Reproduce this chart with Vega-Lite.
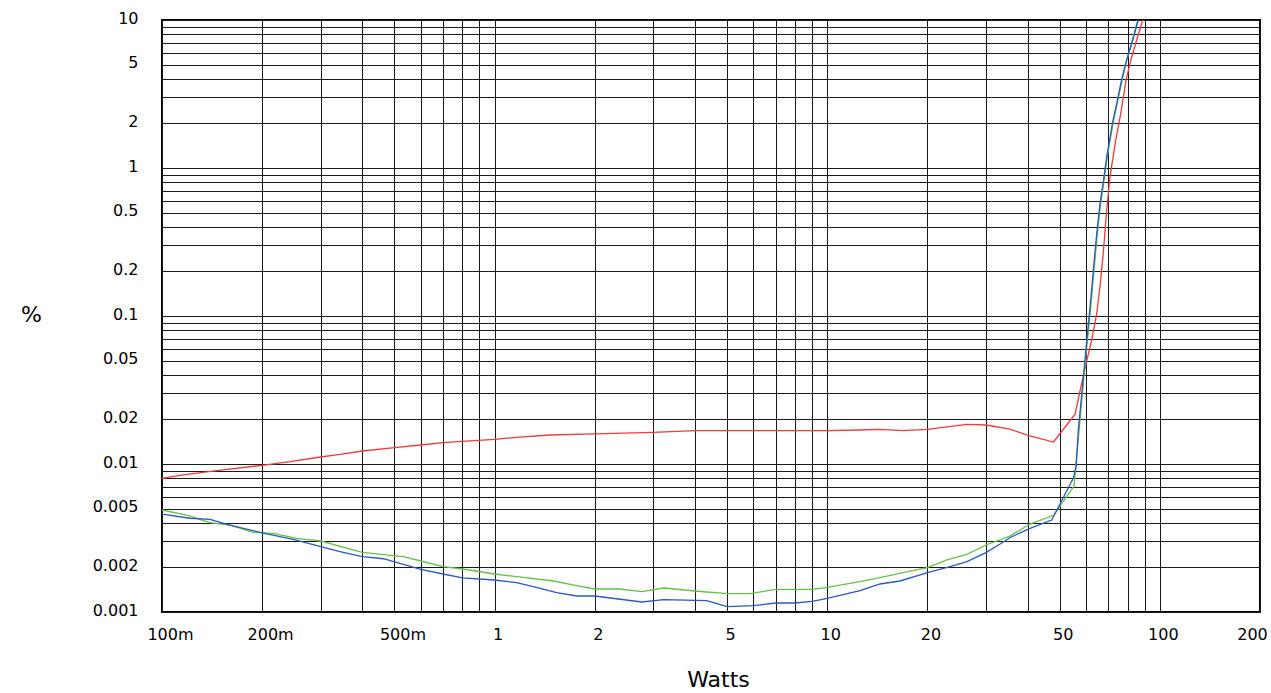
{
  "$schema": "https://vega.github.io/schema/vega-lite/v6.json",
  "autosize": {"type": "none"},
  "width": 1098,
  "height": 592,
  "padding": {"left": 162, "top": 20, "right": 11, "bottom": 81},
  "background": "white",
  "config": {
    "view": {"stroke": "black", "strokeWidth": 2},
    "font": "DejaVu Sans"
  },
  "data": {
    "values": [
      {"series": "red", "w": 0.1, "pct": 0.0080},
      {"series": "red", "w": 0.1157, "pct": 0.00843},
      {"series": "red", "w": 0.146, "pct": 0.00901},
      {"series": "red", "w": 0.2, "pct": 0.0098},
      {"series": "red", "w": 0.2425, "pct": 0.01036},
      {"series": "red", "w": 0.3, "pct": 0.01115},
      {"series": "red", "w": 0.343, "pct": 0.01163},
      {"series": "red", "w": 0.4, "pct": 0.01224},
      {"series": "red", "w": 0.5, "pct": 0.01289},
      {"series": "red", "w": 0.6, "pct": 0.01344},
      {"series": "red", "w": 0.7, "pct": 0.01393},
      {"series": "red", "w": 0.8, "pct": 0.01423},
      {"series": "red", "w": 1.0, "pct": 0.01468},
      {"series": "red", "w": 1.165, "pct": 0.01515},
      {"series": "red", "w": 1.467, "pct": 0.0157},
      {"series": "red", "w": 2.0, "pct": 0.0160},
      {"series": "red", "w": 3.0, "pct": 0.01637},
      {"series": "red", "w": 4.0, "pct": 0.0168},
      {"series": "red", "w": 10, "pct": 0.0168},
      {"series": "red", "w": 12.55, "pct": 0.01697},
      {"series": "red", "w": 14.4, "pct": 0.01715},
      {"series": "red", "w": 16.9, "pct": 0.0168},
      {"series": "red", "w": 20, "pct": 0.01715},
      {"series": "red", "w": 26.3, "pct": 0.01854},
      {"series": "red", "w": 30, "pct": 0.01834},
      {"series": "red", "w": 35.4, "pct": 0.0172},
      {"series": "red", "w": 40.7, "pct": 0.01546},
      {"series": "red", "w": 47.9, "pct": 0.01408},
      {"series": "red", "w": 55.6, "pct": 0.0217},
      {"series": "red", "w": 58.2, "pct": 0.0351},
      {"series": "red", "w": 60.0, "pct": 0.0479},
      {"series": "red", "w": 62.4, "pct": 0.0689},
      {"series": "red", "w": 64.6, "pct": 0.104},
      {"series": "red", "w": 66.4, "pct": 0.175},
      {"series": "red", "w": 67.7, "pct": 0.279},
      {"series": "red", "w": 69.0, "pct": 0.48},
      {"series": "red", "w": 70.8, "pct": 0.874},
      {"series": "red", "w": 73.7, "pct": 1.55},
      {"series": "red", "w": 76.3, "pct": 2.34},
      {"series": "red", "w": 79.1, "pct": 3.93},
      {"series": "red", "w": 82.3, "pct": 5.65},
      {"series": "red", "w": 85.2, "pct": 7.33},
      {"series": "red", "w": 88.8, "pct": 10},

      {"series": "green", "w": 0.1, "pct": 0.00489},
      {"series": "green", "w": 0.1186, "pct": 0.00452},
      {"series": "green", "w": 0.1394, "pct": 0.00401},
      {"series": "green", "w": 0.160, "pct": 0.00387},
      {"series": "green", "w": 0.1882, "pct": 0.003455},
      {"series": "green", "w": 0.216, "pct": 0.0034},
      {"series": "green", "w": 0.2542, "pct": 0.003146},
      {"series": "green", "w": 0.3, "pct": 0.003018},
      {"series": "green", "w": 0.4, "pct": 0.00253},
      {"series": "green", "w": 0.5313, "pct": 0.002365},
      {"series": "green", "w": 0.6, "pct": 0.002211},
      {"series": "green", "w": 0.7, "pct": 0.002024},
      {"series": "green", "w": 0.8, "pct": 0.001952},
      {"series": "green", "w": 1.0, "pct": 0.001806},
      {"series": "green", "w": 1.22, "pct": 0.001715},
      {"series": "green", "w": 1.501, "pct": 0.00162},
      {"series": "green", "w": 1.765, "pct": 0.001506},
      {"series": "green", "w": 2.0, "pct": 0.00143},
      {"series": "green", "w": 2.38, "pct": 0.00143},
      {"series": "green", "w": 2.77, "pct": 0.001371},
      {"series": "green", "w": 3.22, "pct": 0.001453},
      {"series": "green", "w": 4.0, "pct": 0.001386},
      {"series": "green", "w": 5.0, "pct": 0.00133},
      {"series": "green", "w": 5.86, "pct": 0.00133},
      {"series": "green", "w": 7.0, "pct": 0.001423},
      {"series": "green", "w": 9.0, "pct": 0.001423},
      {"series": "green", "w": 10, "pct": 0.001468},
      {"series": "green", "w": 12.55, "pct": 0.001603},
      {"series": "green", "w": 14.4, "pct": 0.001706},
      {"series": "green", "w": 16.9, "pct": 0.001844},
      {"series": "green", "w": 20, "pct": 0.001993},
      {"series": "green", "w": 22.9, "pct": 0.002246},
      {"series": "green", "w": 26.3, "pct": 0.002453},
      {"series": "green", "w": 30, "pct": 0.002836},
      {"series": "green", "w": 35.4, "pct": 0.00326},
      {"series": "green", "w": 40.7, "pct": 0.00393},
      {"series": "green", "w": 47.9, "pct": 0.0045},
      {"series": "green", "w": 55.2, "pct": 0.0071},
      {"series": "green", "w": 57.2, "pct": 0.0172},
      {"series": "green", "w": 59.1, "pct": 0.0389},
      {"series": "green", "w": 60.6, "pct": 0.0689},
      {"series": "green", "w": 62.0, "pct": 0.1156},
      {"series": "green", "w": 63.4, "pct": 0.2046},
      {"series": "green", "w": 64.9, "pct": 0.362},
      {"series": "green", "w": 66.4, "pct": 0.577},
      {"series": "green", "w": 68.0, "pct": 0.83},
      {"series": "green", "w": 69.5, "pct": 1.19},
      {"series": "green", "w": 72.3, "pct": 2.0},
      {"series": "green", "w": 74.5, "pct": 2.74},
      {"series": "green", "w": 77.0, "pct": 3.93},
      {"series": "green", "w": 79.6, "pct": 5.37},
      {"series": "green", "w": 82.7, "pct": 7.33},
      {"series": "green", "w": 85.8, "pct": 10},

      {"series": "blue", "w": 0.1, "pct": 0.00459},
      {"series": "blue", "w": 0.1214, "pct": 0.0043},
      {"series": "blue", "w": 0.1394, "pct": 0.00423},
      {"series": "blue", "w": 0.160, "pct": 0.00387},
      {"series": "blue", "w": 0.2, "pct": 0.00343},
      {"series": "blue", "w": 0.248, "pct": 0.0031},
      {"series": "blue", "w": 0.3, "pct": 0.00276},
      {"series": "blue", "w": 0.343, "pct": 0.00256},
      {"series": "blue", "w": 0.4, "pct": 0.002365},
      {"series": "blue", "w": 0.463, "pct": 0.00229},
      {"series": "blue", "w": 0.6, "pct": 0.00194},
      {"series": "blue", "w": 0.7, "pct": 0.001806},
      {"series": "blue", "w": 0.8, "pct": 0.0017},
      {"series": "blue", "w": 1.0, "pct": 0.001645},
      {"series": "blue", "w": 1.165, "pct": 0.001578},
      {"series": "blue", "w": 1.307, "pct": 0.001483},
      {"series": "blue", "w": 1.537, "pct": 0.00135},
      {"series": "blue", "w": 1.765, "pct": 0.001283},
      {"series": "blue", "w": 2.0, "pct": 0.001283},
      {"series": "blue", "w": 2.77, "pct": 0.001168},
      {"series": "blue", "w": 3.22, "pct": 0.001211},
      {"series": "blue", "w": 4.34, "pct": 0.001193},
      {"series": "blue", "w": 5.0, "pct": 0.001086},
      {"series": "blue", "w": 6.0, "pct": 0.001104},
      {"series": "blue", "w": 7.0, "pct": 0.00115},
      {"series": "blue", "w": 8.0, "pct": 0.00115},
      {"series": "blue", "w": 9.0, "pct": 0.00118},
      {"series": "blue", "w": 10, "pct": 0.001237},
      {"series": "blue", "w": 12.55, "pct": 0.001393},
      {"series": "blue", "w": 14.4, "pct": 0.001546},
      {"series": "blue", "w": 16.55, "pct": 0.00162},
      {"series": "blue", "w": 20, "pct": 0.001844},
      {"series": "blue", "w": 23.4, "pct": 0.002024},
      {"series": "blue", "w": 26.3, "pct": 0.002188},
      {"series": "blue", "w": 30, "pct": 0.002517},
      {"series": "blue", "w": 33.1, "pct": 0.00288},
      {"series": "blue", "w": 35.4, "pct": 0.003177},
      {"series": "blue", "w": 40.7, "pct": 0.003678},
      {"series": "blue", "w": 47.3, "pct": 0.004184},
      {"series": "blue", "w": 54.9, "pct": 0.008},
      {"series": "blue", "w": 56.0, "pct": 0.0096},
      {"series": "blue", "w": 56.9, "pct": 0.0172},
      {"series": "blue", "w": 58.9, "pct": 0.0389},
      {"series": "blue", "w": 60.3, "pct": 0.0689},
      {"series": "blue", "w": 61.7, "pct": 0.1156},
      {"series": "blue", "w": 63.1, "pct": 0.2046},
      {"series": "blue", "w": 64.6, "pct": 0.362},
      {"series": "blue", "w": 66.1, "pct": 0.577},
      {"series": "blue", "w": 67.7, "pct": 0.83},
      {"series": "blue", "w": 69.2, "pct": 1.19},
      {"series": "blue", "w": 72.0, "pct": 2.0},
      {"series": "blue", "w": 74.2, "pct": 2.74},
      {"series": "blue", "w": 76.7, "pct": 3.93},
      {"series": "blue", "w": 79.4, "pct": 5.37},
      {"series": "blue", "w": 82.9, "pct": 7.33},
      {"series": "blue", "w": 86.1, "pct": 10}
    ]
  },
  "mark": {"type": "line", "strokeWidth": 1.3, "clip": true, "interpolate": "linear"},
  "encoding": {
    "x": {
      "field": "w",
      "type": "quantitative",
      "scale": {"type": "log", "domain": [0.1, 200], "nice": false, "zero": false},
      "axis": {
        "values": [0.1,0.2,0.3,0.4,0.5,0.6,0.7,0.8,0.9,1,2,3,4,5,6,7,8,9,10,20,30,40,50,60,70,80,90,100,200],
        "grid": true,
        "gridColor": "#1a1a1a",
        "gridWidth": 1,
        "gridOpacity": 1,
        "ticks": false,
        "domain": false,
        "labelExpr": "indexof([0.1,0.2,0.5,1,2,5,10,20,50,100,200], datum.value) >= 0 ? (datum.value < 1 ? round(datum.value * 1000) + 'm' : '' + datum.value) : ''",
        "labelFont": "DejaVu Sans",
        "labelFontSize": 16,
        "labelColor": "black",
        "labelPadding": 14,
        "labelBaseline": "top",
        "labelOverlap": false,
        "labelBound": false,
        "labelFlush": false,
        "labelOffset": {"condition": [{"test": "datum.value < 1", "value": 8}, {"test": "datum.value == 200", "value": -8}], "value": 3},
        "title": "Watts",
        "titleFont": "DejaVu Sans",
        "titleFontSize": 22,
        "titleFontWeight": "normal",
        "titleColor": "black",
        "titleX": 556,
        "titleY": 67,
        "titleAlign": "center",
        "titleBaseline": "middle"
      }
    },
    "y": {
      "field": "pct",
      "type": "quantitative",
      "scale": {"type": "log", "domain": [0.001, 10], "nice": false, "zero": false},
      "axis": {
        "values": [0.001,0.002,0.003,0.004,0.005,0.006,0.007,0.008,0.009,0.01,0.02,0.03,0.04,0.05,0.06,0.07,0.08,0.09,0.1,0.2,0.3,0.4,0.5,0.6,0.7,0.8,0.9,1,2,3,4,5,6,7,8,9,10],
        "grid": true,
        "gridColor": "#1a1a1a",
        "gridWidth": 1,
        "gridOpacity": 1,
        "ticks": false,
        "domain": false,
        "labelExpr": "indexof([0.001,0.002,0.005,0.01,0.02,0.05,0.1,0.2,0.5,1,2,5,10], datum.value) >= 0 ? '' + datum.value : ''",
        "labelFont": "DejaVu Sans",
        "labelFontSize": 16,
        "labelColor": "black",
        "labelPadding": 24,
        "labelAlign": "right",
        "labelBaseline": "middle",
        "labelOffset": -2,
        "labelOverlap": false,
        "labelBound": false,
        "labelFlush": false,
        "title": "%",
        "titleFont": "DejaVu Sans",
        "titleFontSize": 22,
        "titleFontWeight": "normal",
        "titleColor": "black",
        "titleAngle": 0,
        "titleX": -131,
        "titleY": 294,
        "titleAlign": "center",
        "titleBaseline": "middle"
      }
    },
    "color": {
      "field": "series",
      "type": "nominal",
      "scale": {"domain": ["red", "green", "blue"], "range": ["#f23a3a", "#66c04a", "#2b58c4"]},
      "legend": null
    }
  }
}
